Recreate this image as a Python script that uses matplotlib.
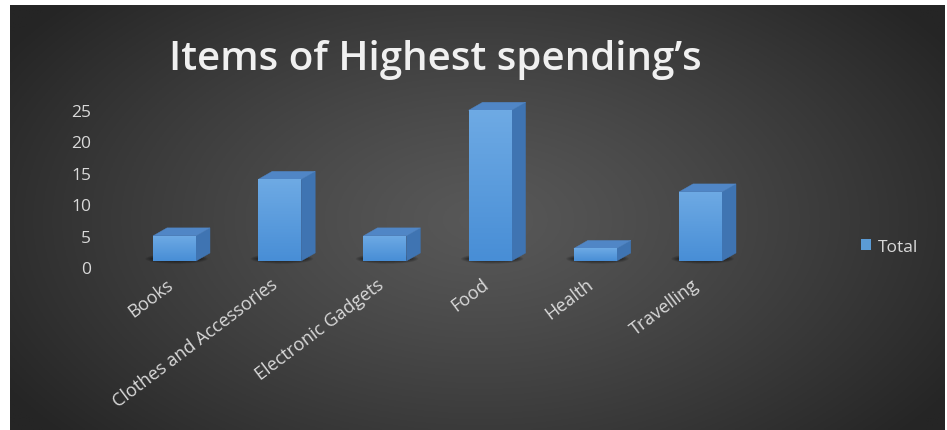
import matplotlib

matplotlib.use("Agg")
import matplotlib.pyplot as plt
import numpy as np
from matplotlib.patches import Ellipse, Patch, Polygon
from matplotlib.transforms import ScaledTranslation

# Spending totals per item
categories = [
    "Books",
    "Clothes and Accessories",
    "Electronic Gadgets",
    "Food",
    "Health",
    "Travelling",
]
totals = [4, 13, 4, 24, 2, 11]
y_ticks = [0, 5, 10, 15, 20, 25]
series_name = "Total"
title = "Items of Highest spending\u2019s"

plt.rcParams["font.family"] = ["Open Sans", "DejaVu Sans"]

W, H = 947, 431
TEXT = "#d9d9d9"
FRONT_TOP = np.array([110, 170, 228]) / 255
FRONT_BOT = np.array([72, 142, 214]) / 255
SIDE = "#3f74b2"
TOP = "#5086c6"

fig = plt.figure(figsize=(W / 100, H / 100), dpi=100)
fig.patch.set_facecolor("white")

# dark radial backdrop
bg = fig.add_axes([10 / W, 0, 934 / W, 425 / H])
bg.set_axis_off()
gx, gy = np.meshgrid(np.linspace(0, 934, 400), np.linspace(0, 425, 200))
r = np.sqrt(((gx - 470) / 560) ** 2 + ((gy - 215) / 330) ** 2)
r = np.clip(r, 0, 1)
c0, c1 = np.array([0x58] * 3) / 255, np.array([0x25] * 3) / 255
img = c0 + (c1 - c0) * r[..., None] ** 1.2
bg.imshow(img, extent=[0, 1, 0, 1], aspect="auto", origin="upper")
bg.set_xlim(0, 1)
bg.set_ylim(0, 1)

# plot area in pixel terms
px_left, px_right, px_top, px_bot = 100, 800, 90, 280
x_c0, x_step = 174.5, 105.2
y_zero, y_unit = 268, 6.28

ax = fig.add_axes([px_left / W, (H - px_bot) / H,
                   (px_right - px_left) / W, (px_bot - px_top) / H])
ax.set_facecolor("none")
for s in ax.spines.values():
    s.set_visible(False)

width = 43 / x_step
dx = 14 / x_step
dy = 8 / y_unit
lift = 6 / y_unit

grad = np.linspace(0, 1, 64)[:, None, None]
face_img = FRONT_TOP + (FRONT_BOT - FRONT_TOP) * grad
face_img = np.repeat(face_img, 4, axis=1)

for i, v in enumerate(totals):
    x0, x1 = i - width / 2, i + width / 2
    yb, yt = lift, lift + v

    # soft floor shadow
    for k in range(6):
        ax.add_patch(Ellipse((i + 0.02, yb + 0.35), width * (1.45 - 0.06 * k),
                             1.6 - 0.18 * k, facecolor="black", alpha=0.09,
                             edgecolor="none", zorder=1))

    front = Polygon([(x0, yb), (x1, yb), (x1, yt), (x0, yt)], closed=True,
                    facecolor="none", edgecolor="none", zorder=3)
    ax.add_patch(front)
    im = ax.imshow(face_img, extent=[x0, x1, yb, yt], aspect="auto",
                   origin="upper", zorder=3)
    im.set_clip_path(front)

    side = Polygon([(x1, yb), (x1 + dx, yb + dy), (x1 + dx, yt + dy), (x1, yt)],
                   closed=True, facecolor=SIDE, edgecolor=SIDE, lw=0.3, zorder=2)
    top = Polygon([(x0, yt), (x1, yt), (x1 + dx, yt + dy), (x0 + dx, yt + dy)],
                  closed=True, facecolor=TOP, edgecolor=TOP, lw=0.3, zorder=2)
    ax.add_patch(side)
    ax.add_patch(top)

ax.set_xlim((px_left - x_c0) / x_step, (px_right - x_c0) / x_step)
ax.set_ylim((y_zero - px_bot) / y_unit, (y_zero - px_top) / y_unit)

ax.set_yticks(y_ticks)
ax.set_yticklabels([str(t) for t in y_ticks])
ax.tick_params(axis="y", length=0, pad=6.5, labelsize=12.5, labelcolor=TEXT)

ax.set_xticks(range(len(categories)))
ax.set_xticklabels(categories, rotation=37, ha="right", va="top",
                   rotation_mode="anchor")
ax.tick_params(axis="x", length=0, pad=-3, labelsize=13, labelcolor=TEXT)
shift = ScaledTranslation(-9 / 100, 0, fig.dpi_scale_trans)
for lab in ax.get_xticklabels():
    lab.set_transform(lab.get_transform() + shift)

fig.text(435 / W, 1 - 60 / H, title, ha="center", va="center",
         fontsize=29, fontweight="semibold", color="#f0f0f0")

handle = Patch(facecolor="#5b9bd5", edgecolor="none")
fig.legend([handle], [series_name], loc="center left",
           bbox_to_anchor=(861 / W, 1 - 248 / H), frameon=False,
           handlelength=0.6, handleheight=0.6, handletextpad=0.35,
           borderpad=0, borderaxespad=0, fontsize=12.5, labelcolor=TEXT)

fig.savefig("out.png", dpi=100)
